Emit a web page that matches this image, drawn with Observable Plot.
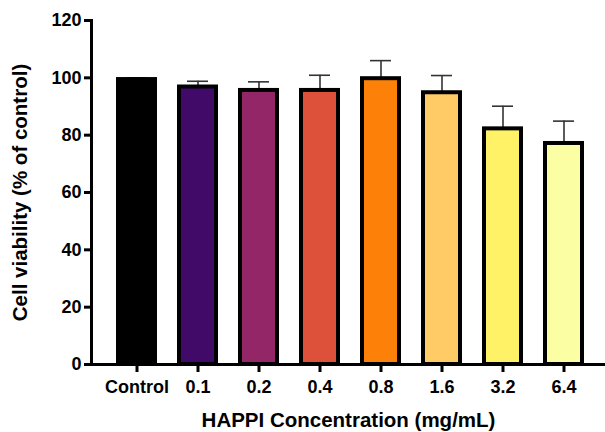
<!DOCTYPE html>
<html>
<head>
<meta charset="utf-8">
<script src="https://cdn.jsdelivr.net/npm/d3@7"></script>
<script src="https://cdn.jsdelivr.net/npm/@observablehq/plot@0.6"></script>
<style>
  body { margin: 0; background: #fff; }
</style>
</head>
<body>
<div id="chart"></div>
<script>
const categories = ["Control", "0.1", "0.2", "0.4", "0.8", "1.6", "3.2", "6.4"];
const means = [99.4, 96.8, 95.6, 95.6, 99.7, 94.8, 82.2, 77.1];
const errors = [0.6, 2.0, 3.0, 5.3, 6.3, 6.0, 7.9, 7.8];
const colors = ["#000000", "#420a68", "#932667", "#dd513a", "#fd8008", "#fecb66", "#fff266", "#fcfea4"];
const yTicks = [0, 20, 40, 60, 80, 100, 120];
const xTitle = "HAPPI Concentration (mg/mL)";
const yTitle = "Cell viability (% of control)";

const data = categories.map((c, i) => ({cat: c, mean: means[i], err: errors[i], top: means[i] + errors[i]}));
const font = "Liberation Sans, Arial, Helvetica, sans-serif";

const chart = Plot.plot({
  width: 605,
  height: 432,
  marginLeft: 91,
  marginRight: 0,
  marginTop: 20,
  marginBottom: 68,
  style: {fontFamily: font, fontWeight: "bold", fontSize: "18px", color: "#000", background: "#fff"},
  x: {domain: categories, paddingInner: 0.4, paddingOuter: 0.39, range: [91, 608], label: null},
  y: {domain: [0, 120], label: null},
  color: {domain: categories, range: colors},
  marks: [
    Plot.ruleX(data, {x: "cat", y1: "mean", y2: "top", stroke: "#333", strokeWidth: 1.6}),
    Plot.tickY(data, {x: "cat", y: "top", stroke: "#333", strokeWidth: 1.6, inset: 8}),
    Plot.barY(data, {x: "cat", y: "mean", fill: "cat", stroke: "#000", strokeWidth: 4}),
    Plot.axisY({ticks: yTicks, tickSize: 7, tickPadding: 3, stroke: "#000", strokeWidth: 3, fill: "#000", fontSize: 18, fontWeight: "bold", label: null}),
    Plot.axisX({tickSize: 8, tickPadding: 8, stroke: "#000", strokeWidth: 3, fill: "#000", fontSize: 18, fontWeight: "bold", label: null}),
    Plot.ruleY([0], {stroke: "#000", strokeWidth: 3}),
    Plot.frame({anchor: "left", stroke: "#000", strokeWidth: 3}),
    Plot.text([yTitle], {frameAnchor: "left", rotate: -90, dx: -71, textAnchor: "middle", fontSize: 20.5, fontWeight: "bold", fill: "#000"}),
    Plot.text([xTitle], {frameAnchor: "bottom", dy: 62, textAnchor: "middle", fontSize: 20.5, fontWeight: "bold", fill: "#000"})
  ]
});
document.getElementById("chart").appendChild(chart);
</script>
</body>
</html>
